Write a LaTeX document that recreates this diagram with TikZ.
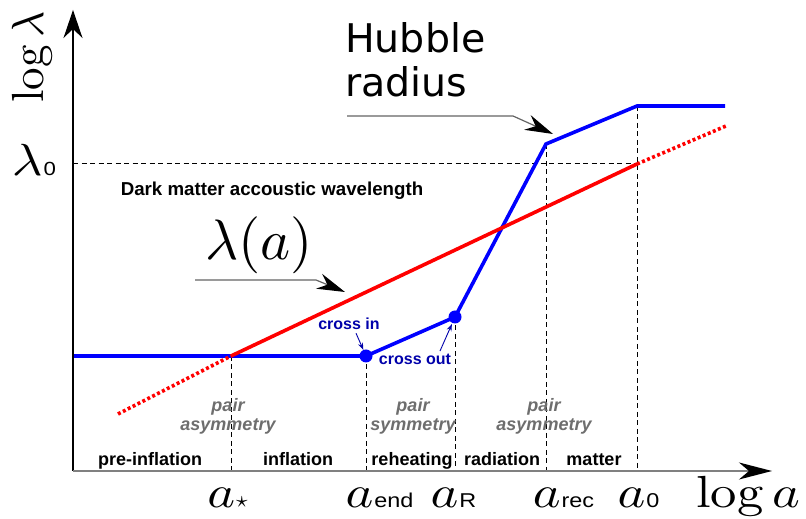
\documentclass[tikz,border=0pt]{standalone}
\usepackage{fontspec}
\usepackage{graphicx}
\setsansfont{Liberation Sans}
\newfontfamily\hubfont{DejaVu Sans}
\usetikzlibrary{arrows.meta}

\definecolor{crossblue}{RGB}{0,0,170}
\definecolor{pairgray}{RGB}{110,110,110}
\definecolor{pointgray}{RGB}{100,100,100}

\newcommand{\xs}[1]{\scalebox{1.17}[1]{#1}}
\newcommand{\mathlbl}[1]{\scalebox{5.27}[4.5]{#1}}
\newcommand{\alab}[1]{\mathlbl{$a$}\kern1pt\xs{\sffamily\fontsize{20}{20}\selectfont #1}}

\tikzset{
  guide/.style={line width=1pt,dash pattern=on 5pt off 3.5pt},
  bluecurve/.style={blue,line width=3.6pt,line join=miter},
  redcurve/.style={red,line width=3.6pt},
  reddots/.style={red,line width=3.6pt,dash pattern=on 3pt off 2.5pt},
  dot/.style={circle,fill=blue,inner sep=0pt,minimum size=13pt},
  pointer/.style={pointgray,line width=1.2pt,-{Stealth[length=28pt,width=16pt,inset=9pt,black]}},
  crossptr/.style={crossblue,line width=0.9pt,-{Stealth[length=7pt,width=5pt]}},
  region/.style={font=\sffamily\bfseries\fontsize{18}{19}\selectfont,anchor=base},
  pairlbl/.style={pairgray,font=\sffamily\bfseries\itshape\fontsize{18}{19}\selectfont,align=center,anchor=base},
  crosslbl/.style={crossblue,font=\sffamily\bfseries\fontsize{16}{17}\selectfont,anchor=base},
  axlbl/.style={anchor=base}
}

\begin{document}
\begin{tikzpicture}[x=10pt,y=10pt]
\useasboundingbox (0,0) rectangle (80.6,51.9);

\coordinate (O) at (7.3,4.8);
\coordinate (xend) at (77.2,4.8);
\coordinate (ytop) at (7.3,50.9);
\coordinate (bstart) at (7.3,16.3);
\coordinate (astar) at (23.1,16.3);
\coordinate (aend) at (36.6,16.3);
\coordinate (aR) at (45.5,20.2);
\coordinate (arec) at (54.6,37.5);
\coordinate (azero) at (63.7,41.3);
\coordinate (bstop) at (72.5,41.3);
\coordinate (rstart) at (11.8,10.5);
\coordinate (rzero) at (63.7,35.5);
\coordinate (rstop) at (72.6,39.3);
\coordinate (lzero) at (7.3,35.5);

\draw[guide] (lzero) -- (rzero);
\draw[guide] (astar) -- (astar |- O);
\draw[guide] (aend) -- (aend |- O);
\draw[guide] (aR) -- (aR |- O);
\draw[guide] (arec) -- (arec |- O);
\draw[guide] (azero) -- (azero |- O);

\draw[bluecurve] (bstart) -- (aend) -- (aR) -- (arec) -- (azero) -- (bstop);
\draw[reddots] (rstart) -- (astar);
\draw[redcurve] (astar) -- (rzero);
\draw[reddots] (rzero) -- (rstop);

\node[dot] (dotend) at (aend) {};
\node[dot] (dotR) at (aR) {};

\draw[line width=1.2pt,-{Stealth[length=28pt,width=19pt,inset=9pt]}] (O) -- (ytop);
\draw[gray,line width=1.5pt,-{Stealth[length=33pt,width=17pt,inset=10pt,black]}] (O) -- (xend);

\node[axlbl,rotate=90] (ylab) at (4.3,46.2) {\scalebox{4.5}{$\log\lambda$}};
\node[axlbl] (lzerolab) at (3.4,34.3) {\mathlbl{$\lambda$}\kern1pt\xs{\sffamily\fontsize{19}{19}\selectfont 0}};

\node[axlbl] (starlab) at (22.75,1.1) {\mathlbl{$a$}\kern1pt\scalebox{2.3}{$\star$}};
\node[axlbl] (endlab) at (37.95,1.1) {\alab{end}};
\node[axlbl] (Rlab) at (45.35,1.1) {\alab{R}};
\node[axlbl] (reclab) at (56.35,1.1) {\alab{rec}};
\node[axlbl] (zerolab) at (63.85,1.1) {\alab{0}};
\node[axlbl] (xlab) at (74.8,1.1) {\mathlbl{$\log a$}};

\node[region] (preinf) at (15.0,5.35) {pre-inflation};
\node[region] (inf) at (29.8,5.35) {inflation};
\node[region] (reheat) at (41.2,5.35) {reheating};
\node[region] (rad) at (50.2,5.35) {radiation};
\node[region] (mat) at (59.4,5.35) {matter};

\node[pairlbl] (pairone) at (22.8,8.83) {pair\\asymmetry};
\node[pairlbl] (pairtwo) at (41.3,8.83) {pair\\symmetry};
\node[pairlbl] (pairthree) at (54.4,8.83) {pair\\asymmetry};

\node[crosslbl] (crossin) at (34.9,18.95) {cross in};
\node[crosslbl] (crossout) at (41.5,15.4) {cross out};
\draw[crossptr] ([xshift=7pt]crossin.south) -- (dotend);
\draw[crossptr,shorten >=1pt] ([xshift=25pt]crossout.north) -- (dotR);

\node[anchor=base,font=\sffamily\bfseries\fontsize{18.7}{19}\selectfont] (dmlab) at (27.2,32.3) {Dark matter accoustic wavelength};

\node[anchor=base] (lamalab) at (25.9,25.9) {\scalebox{5.7}{$\lambda(a)$}};
\coordinate (lamfoot) at (19.5,23.9);
\coordinate (lambend) at (31.6,23.9);
\coordinate (lamtip) at (34.5,22.7);
\draw[pointer] (lamfoot) -- (lambend) -- (lamtip);

\node[anchor=base west,align=left,inner sep=0pt,font=\hubfont\fontsize{39.5}{44}\selectfont] (hubble) at (34.5,42.2) {Hubble\\radius};
\coordinate (hubfoot) at (34.7,40.3);
\coordinate (hubbend) at (51.3,40.3);
\coordinate (hubtip) at (55.3,38.5);
\draw[pointer] (hubfoot) -- (hubbend) -- (hubtip);
\end{tikzpicture}
\end{document}
